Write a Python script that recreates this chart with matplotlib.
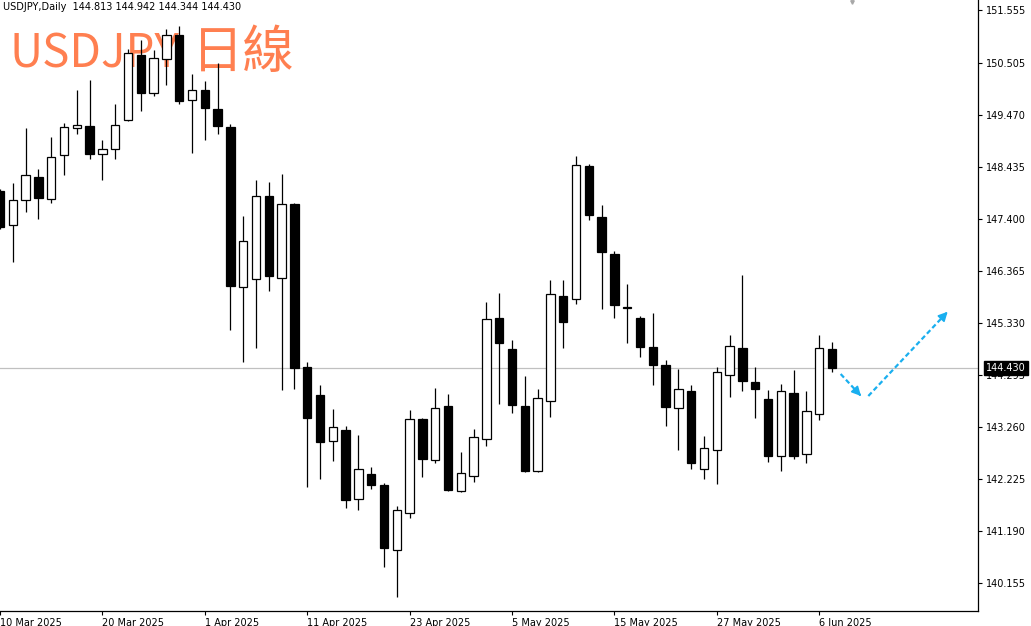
import matplotlib
matplotlib.use("Agg")
import matplotlib.pyplot as plt
import matplotlib.transforms as mtransforms
import numpy as np
import pandas as pd

# ---------------- data ----------------
symbol_title = "USDJPY,Daily  144.813 144.942 144.344 144.430"
overlay_latin = "USDJPY"
overlay_cjk = "日線"
dates = pd.bdate_range("2025-03-10", periods=66)

opens = [147.957, 147.269, 147.773, 148.224, 147.786, 148.674, 149.200, 149.245, 148.682, 148.782,
         149.359, 150.653, 149.896, 150.573, 151.057, 149.757, 149.956, 149.584, 149.232, 146.035,
         146.194, 147.846, 146.214, 147.699, 144.443, 143.891, 142.969, 143.188, 141.821, 142.313,
         142.106, 140.800, 141.548, 143.419, 142.592, 143.678, 141.980, 142.285, 143.009, 145.418,
         144.801, 143.678, 142.384, 143.772, 145.868, 145.796, 148.455, 147.440, 146.691, 145.648,
         145.418, 144.841, 144.488, 143.627, 143.977, 142.412, 142.796, 144.295, 144.827, 144.156,
         143.812, 142.671, 143.937, 142.717, 143.507, 144.813]
highs = [147.990, 148.117, 149.212, 148.389, 149.026, 149.305, 149.956, 150.155, 148.967, 149.683,
         150.772, 150.957, 150.752, 151.170, 151.236, 150.275, 150.141, 150.500, 149.285, 147.454,
         148.171, 148.131, 148.290, 147.719, 144.554, 144.090, 143.607, 143.280, 143.095, 142.458,
         142.130, 141.682, 143.593, 143.440, 144.037, 143.911, 142.757, 143.209, 145.736, 145.915,
         144.986, 144.269, 144.005, 146.180, 146.180, 148.654, 148.480, 147.667, 146.757, 146.100,
         145.470, 145.517, 144.582, 144.403, 144.090, 143.075, 144.454, 145.085, 146.280, 144.449,
         143.985, 144.104, 144.389, 143.971, 145.085, 144.942]
lows = [147.200, 146.544, 147.528, 147.400, 147.707, 148.264, 149.092, 148.594, 148.171, 148.589,
        149.340, 149.550, 149.843, 150.062, 149.683, 148.702, 148.973, 149.092, 145.185, 144.554,
        144.821, 145.955, 143.991, 144.005, 142.054, 142.219, 142.584, 141.642, 141.608, 142.020,
        140.462, 139.876, 141.449, 142.265, 142.538, 141.980, 141.966, 142.154, 142.876, 143.712,
        143.539, 142.353, 142.359, 143.447, 144.821, 145.696, 147.368, 145.597, 145.418, 144.920,
        144.653, 144.090, 143.274, 142.796, 142.412, 142.219, 142.120, 143.857, 143.971, 143.439,
        142.552, 142.378, 142.612, 142.532, 143.388, 144.344]
closes = [147.241, 147.767, 148.264, 147.806, 148.628, 149.220, 149.259, 148.682, 148.788, 149.259,
          150.698, 149.896, 150.599, 151.057, 149.749, 149.962, 149.604, 149.240, 146.067, 146.950,
          147.846, 146.254, 147.687, 144.423, 143.427, 142.955, 143.248, 141.801, 142.418, 142.106,
          140.840, 141.602, 143.419, 142.612, 143.627, 141.994, 142.333, 143.055, 145.398, 144.932,
          143.686, 142.384, 143.825, 145.895, 145.344, 148.469, 147.468, 146.737, 145.682, 145.625,
          144.841, 144.488, 143.658, 144.001, 142.544, 142.830, 144.343, 144.860, 144.164, 144.011,
          142.683, 143.965, 142.683, 143.579, 144.821, 144.430]

price_ticks = [151.555, 150.505, 149.470, 148.435, 147.400, 146.365, 145.330, 144.295,
               143.260, 142.225, 141.190, 140.155]
last_price = 144.430

# projected path (bar index, price)
proj_down_x = [65.68, 67.27]
proj_down_y = [144.309, 143.871]
proj_up_x = [67.84, 74.04]
proj_up_y = [143.871, 145.549]

# ---------------- figure ----------------
W, H = 1031, 626
fig = plt.figure(figsize=(W / 100, H / 100), dpi=100)
ax_right_px, ax_bottom_px = 978, 610.7
ax = fig.add_axes([0, (H - ax_bottom_px) / H, ax_right_px / W, ax_bottom_px / H])
ax.set_xlim(0, 76.41)
ax.set_ylim(139.598, 151.753)

o = np.array(opens); h = np.array(highs); l = np.array(lows); c = np.array(closes)
x = np.arange(len(o))
up = c >= o

ax.axhline(last_price, color="#C0C0C0", lw=0.9, zorder=2)
ax.vlines(x, l, h, color="black", lw=0.9, zorder=3)
ax.bar(x, np.abs(c - o), bottom=np.minimum(o, c), width=0.65,
       color=np.where(up, "white", "black"), edgecolor="black", linewidth=0.9, zorder=4)

# overlay big label (behind candles)
coral = "#FF7F50"
ax.text(10 / ax_right_px, 1 - 68 / ax_bottom_px, overlay_latin, transform=ax.transAxes,
        fontsize=33, color=coral, family=["Noto Sans CJK TC", "DejaVu Sans"],
        ha="left", va="baseline", zorder=1)
ax.text(192 / ax_right_px, 1 - 68 / ax_bottom_px, overlay_cjk, transform=ax.transAxes,
        fontsize=37, color=coral, family=["Noto Sans CJK TC", "DejaVu Sans"],
        ha="left", va="baseline", zorder=1)

# header
ax.text(3 / ax_right_px, 1 - 6.5 / ax_bottom_px, symbol_title, transform=ax.transAxes,
        fontsize=7, color="black", ha="left", va="center", zorder=6)

# projection arrows
blue = "#1AAFEF"
for px, py in ((proj_down_x, proj_down_y), (proj_up_x, proj_up_y)):
    ax.plot(px, py, color=blue, lw=1.6, ls=(0, (2.2, 1.3)), zorder=5, solid_capstyle="butt")
    dx = px[1] - px[0]; dy = py[1] - py[0]
    ax.annotate("", xy=(px[1], py[1]), xytext=(px[1] - dx * 0.05, py[1] - dy * 0.05),
                arrowprops=dict(arrowstyle="-|>,head_length=0.55,head_width=0.28",
                                color=blue, lw=1.2, shrinkA=0, shrinkB=0), zorder=5)

# axes styling
for s in ("left", "top"):
    ax.spines[s].set_visible(False)
for s in ("right", "bottom"):
    ax.spines[s].set_color("black")
    ax.spines[s].set_linewidth(0.9)

ax.yaxis.tick_right()
ax.set_yticks(price_ticks)
ax.set_yticklabels([f"{v:.3f}" for v in price_ticks])
ax.tick_params(axis="y", direction="out", length=3, width=0.8, labelsize=7, pad=3, colors="black")

xt = list(range(0, len(dates), 8))
ax.set_xticks(xt)
ax.set_xticklabels([f"{dates[i].day} {dates[i]:%b %Y}" for i in xt])
for lbl in ax.get_xticklabels():
    lbl.set_ha("left")
ax.tick_params(axis="x", direction="out", length=3, width=0.8, labelsize=7, pad=2, colors="black")

# current price box (drawn over the neighbouring tick label, as in the terminal)
trans = mtransforms.blended_transform_factory(ax.transAxes, ax.transData)
ax.annotate(f"{last_price:.3f}", xy=(1.0, last_price), xycoords=trans,
            xytext=(6, 0), textcoords="offset points", fontsize=7, color="white",
            ha="left", va="center", annotation_clip=False,
            bbox=dict(boxstyle="square,pad=0.2", fc="black", ec="black"), zorder=10)

# chart shift marker at top
ax.plot([66.56], [151.72], marker="v", ms=2.5, color="#A8A8A8", clip_on=False, zorder=6)

fig.savefig("out.png", dpi=100)
